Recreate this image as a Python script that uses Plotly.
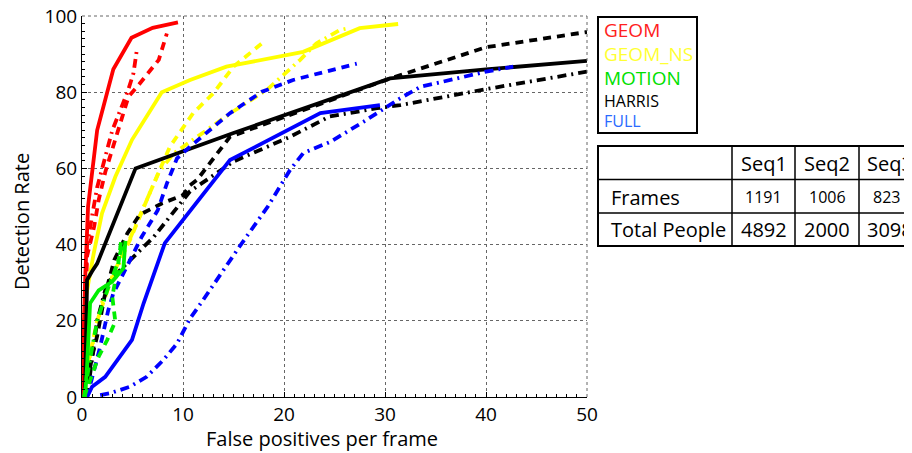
import plotly.graph_objects as go

# ---------------- data ----------------
geom_seq1_x = [0, 0.3, 0.6, 1.5, 3.1, 4.9, 7.0, 9.5]
geom_seq1_y = [0, 30, 50, 70, 86, 94.3, 96.9, 98.3]
geom_seq2_x = [0, 0.5, 1.2, 1.65, 2.3, 3.2, 4.6, 5.45, 6.6, 7.6, 8.4]
geom_seq2_y = [0, 37, 44.7, 51.7, 59, 67, 78.8, 81.4, 85, 88.5, 95.4]
geom_seq3_x = [0, 0.5, 1.5, 3.0, 4.5, 5.1, 5.45]
geom_seq3_y = [0, 40, 55, 70, 80, 85, 91.5]

geomns_seq1_x = [0, 0.3, 1.16, 1.98, 3.3, 4.95, 7.9, 10.7, 14.3, 21.9, 27.5, 31.3]
geomns_seq1_y = [0, 25, 37.7, 48.2, 57.8, 67.5, 80, 83.2, 86.7, 90.6, 96.8, 97.9]
geomns_seq2_x = [0.3, 1.5, 3.1, 4.75, 6.7, 8.7, 11.0, 13.0, 15.0, 16.5, 17.8]
geomns_seq2_y = [5, 20, 32.5, 41.2, 53.5, 65.7, 74.5, 79.7, 86.7, 89.8, 92.8]
geomns_seq3_x = [0.3, 2.0, 3.9, 5.9, 7.6, 9.1, 11.35, 15.0, 18.3, 21.6, 23.2, 25.5, 26.2]
geomns_seq3_y = [5, 25, 36.4, 48.6, 59, 64, 68.3, 75, 80.6, 88.5, 92.8, 96.3, 96.7]

motion_seq1_x = [0.3, 0.5, 0.8, 1.65, 3.0, 4.1, 4.3]
motion_seq1_y = [0, 8, 24.6, 28, 30.3, 33.8, 41]
motion_seq2_x = [0.2, 1.0, 1.65, 2.5, 3.3, 3.0, 3.6, 3.9]
motion_seq2_y = [0, 6.2, 10.6, 15, 19.8, 26.3, 35, 41.6]
motion_seq3_x = [0.2, 0.8, 1.5, 2.5, 3.5, 4.0]
motion_seq3_y = [0, 10, 20, 28, 35, 40]

harris_seq1_x = [0.3, 0.5, 1.0, 1.5, 5.3, 15.0, 30.5, 40, 50]
harris_seq1_y = [0, 30.7, 33, 35, 60, 69.3, 83.6, 86, 88.2]
harris_seq2_x = [0.3, 1.0, 1.5, 2.2, 3.2, 4.5, 5.7, 7.9, 10.0, 10.7, 11.4, 14.65, 30.5, 40, 50]
harris_seq2_y = [0, 10.6, 16, 26, 36, 43, 47.8, 50.8, 53, 55.6, 57, 68.3, 83.6, 91.8, 95.8]
harris_seq3_x = [0.5, 1.5, 2.5, 4.3, 5.9, 7.1, 10.7, 15.0, 20.6, 24.5, 29.2, 31.5, 40, 50]
harris_seq3_y = [0, 20, 30, 34.6, 38.6, 42, 54, 61.8, 68.3, 73.6, 75.8, 76.6, 80.8, 85.4]

full_seq1_x = [0.5, 1.0, 2.3, 4.95, 6.1, 8.2, 14.65, 23.6, 29.5]
full_seq1_y = [0, 2.7, 5.3, 15, 24.6, 40.4, 62.2, 74.5, 76.6]
full_seq2_x = [0.5, 1.0, 1.8, 2.6, 3.1, 4.4, 5.9, 7.5, 8.4, 9.4, 10.7, 14.65, 17.8, 20.9, 27.2]
full_seq2_y = [0, 5.3, 13.2, 22.8, 27.2, 34, 42, 49, 56, 62.6, 65.7, 74.5, 80.1, 83.2, 87.5]
full_seq3_x = [1.8, 2.8, 4.75, 6.4, 8.05, 9.4, 10.7, 12.0, 15.6, 18.4, 20.6, 21.9, 24.6, 27.9, 31.5, 33.5, 35.8, 40, 42.7]
full_seq3_y = [0.5, 1, 2.7, 5.3, 9.7, 14, 20.6, 25.5, 39.5, 50, 59.6, 64, 67, 72.3, 78.4, 81.4, 82.8, 85.4, 86.7]

legend_labels = ["GEOM", "GEOM_NS", "MOTION", "HARRIS", "FULL"]
table_header = ["", "Seq1", "Seq2", "Seq3"]
frames_row = ["Frames", "1191", "1006", "823"]
people_row = ["Total People", "4892", "2000", "3098"]

# ---------------- styling ----------------
FONT = "Open Sans"
RED, YEL, GRN, BLK, BLU = "#ff0000", "#ffff00", "#00ee00", "#000000", "#0000ff"
DASH = "8px,6px"
DASHDOT = "9px,5px,2px,5px"
LW = 3.8

fig = go.Figure()

def add(x, y, color, dash):
    fig.add_trace(go.Scatter(x=x, y=y, mode="lines",
                             line=dict(color=color, width=LW, dash=dash),
                             showlegend=False, hoverinfo="skip"))

series = [
    (geomns_seq1_x, geomns_seq1_y, YEL, "solid"),
    (geomns_seq2_x, geomns_seq2_y, YEL, DASH),
    (geomns_seq3_x, geomns_seq3_y, YEL, DASHDOT),
    (geom_seq1_x, geom_seq1_y, RED, "solid"),
    (geom_seq2_x, geom_seq2_y, RED, DASH),
    (geom_seq3_x, geom_seq3_y, RED, DASHDOT),
    (harris_seq1_x, harris_seq1_y, BLK, "solid"),
    (harris_seq2_x, harris_seq2_y, BLK, DASH),
    (harris_seq3_x, harris_seq3_y, BLK, DASHDOT),
    (full_seq1_x, full_seq1_y, BLU, "solid"),
    (full_seq2_x, full_seq2_y, BLU, DASH),
    (full_seq3_x, full_seq3_y, BLU, DASHDOT),
    (motion_seq1_x, motion_seq1_y, GRN, "solid"),
    (motion_seq2_x, motion_seq2_y, GRN, DASH),
    (motion_seq3_x, motion_seq3_y, GRN, DASHDOT),
]
for x, y, c, d in series:
    add(x, y, c, d)

# page body has an 8px default margin -> shift everything
OFF = 8
# plot area in reference-screen pixels
RL, RT, W, H = 82, 16, 505, 381
L, T = RL - OFF, RT - OFF
FW, FH = 912 - OFF, 453 - OFF

def fx(px):
    return (px - RL) / W

def fy(py):
    return (RT + H - py) / H

axis_common = dict(
    showline=True, linecolor="black", linewidth=1,
    ticks="inside", ticklen=5, tickcolor="black",
    showgrid=True, gridcolor="#666666", griddash="dot", gridwidth=1,
    zeroline=False, ticklabeloverflow="allow",
    tickfont=dict(family=FONT, size=19, color="black"),
)

fig.update_xaxes(range=[0, 50], dtick=10, tick0=0,
                 minor=dict(ticks="inside", ticklen=3, dtick=1, tickcolor="black", showgrid=False),
                 **axis_common)
fig.update_yaxes(range=[0, 100], dtick=20, tick0=0,
                 minor=dict(ticks="inside", ticklen=3, dtick=2, tickcolor="black", showgrid=False),
                 **axis_common)

shapes = []
annotations = []

# top/right plot edges (dotted)
shapes.append(dict(type="line", xref="paper", yref="paper", x0=0, x1=1, y0=1, y1=1,
                   line=dict(color="#666666", width=1, dash="dot")))
shapes.append(dict(type="line", xref="paper", yref="paper", x0=1, x1=1, y0=0, y1=1,
                   line=dict(color="#666666", width=1, dash="dot")))

# axis titles
annotations.append(dict(text="False positives per frame", xref="paper", yref="paper",
                        x=fx(322), y=fy(438), showarrow=False, xanchor="center", yanchor="middle",
                        font=dict(family=FONT, size=20, color="black")))
annotations.append(dict(text="Detection Rate", xref="paper", yref="paper",
                        x=fx(21), y=fy(222), showarrow=False, xanchor="center", yanchor="middle",
                        textangle=-90, font=dict(family=FONT, size=20, color="black")))

# legend box
shapes.append(dict(type="rect", xref="paper", yref="paper",
                   x0=fx(598), x1=fx(697), y0=fy(17), y1=fy(133),
                   line=dict(color="black", width=2), fillcolor="white"))
leg_colors = ["#ff2020", "#ffff33", "#00e000", "#000000", "#2a6aff"]
leg_sizes = [19, 19, 19, 16, 16]
leg_y = [30, 54, 78, 101, 121]
for lab, col, sz, yy in zip(legend_labels, leg_colors, leg_sizes, leg_y):
    annotations.append(dict(text=lab, xref="paper", yref="paper", x=fx(602), y=fy(yy),
                            xanchor="left", yanchor="middle", showarrow=False,
                            font=dict(family=FONT, size=sz, color=col)))

# table
tx0, tx1 = 598, 930
row_lines = [146, 179.5, 213, 246]
col_lines = [732, 795, 859]
shapes.append(dict(type="rect", xref="paper", yref="paper",
                   x0=fx(tx0), x1=fx(tx1), y0=fy(row_lines[0]), y1=fy(row_lines[-1]),
                   line=dict(color="black", width=2), fillcolor="white"))
for ry in row_lines[1:-1]:
    shapes.append(dict(type="line", xref="paper", yref="paper", x0=fx(tx0), x1=fx(tx1),
                       y0=fy(ry), y1=fy(ry), line=dict(color="black", width=1.5)))
for cx in col_lines:
    shapes.append(dict(type="line", xref="paper", yref="paper", x0=fx(cx), x1=fx(cx),
                       y0=fy(row_lines[0]), y1=fy(row_lines[-1]), line=dict(color="black", width=1.5)))

cell_cx = [None, 763.5, 827, 886]
row_cy = [163, 197, 229.5]
rows = [(table_header, [20, 20, 20, 20]), (frames_row, [20, 16, 16, 16]), (people_row, [20, 20, 20, 20])]
for (vals, sizes), cy in zip(rows, row_cy):
    for i, (v, sz) in enumerate(zip(vals, sizes)):
        if not v:
            continue
        if i == 0:
            annotations.append(dict(text=v, xref="paper", yref="paper", x=fx(609), y=fy(cy),
                                    xanchor="left", yanchor="middle", showarrow=False,
                                    font=dict(family=FONT, size=sz, color="black")))
        elif i == 3 and v != "823":
            annotations.append(dict(text=v, xref="paper", yref="paper", x=fx(865), y=fy(cy),
                                    xanchor="left", yanchor="middle", showarrow=False,
                                    font=dict(family=FONT, size=sz, color="black")))
        else:
            annotations.append(dict(text=v, xref="paper", yref="paper", x=fx(cell_cx[i]), y=fy(cy),
                                    xanchor="center", yanchor="middle", showarrow=False,
                                    font=dict(family=FONT, size=sz, color="black")))

fig.update_layout(
    width=FW, height=FH,
    margin=dict(l=L, r=FW - L - W, t=T, b=FH - T - H, autoexpand=False),
    paper_bgcolor="white", plot_bgcolor="white",
    shapes=shapes, annotations=annotations,
    showlegend=False,
    font=dict(family=FONT, color="black"),
)

fig.write_html("out.html")
